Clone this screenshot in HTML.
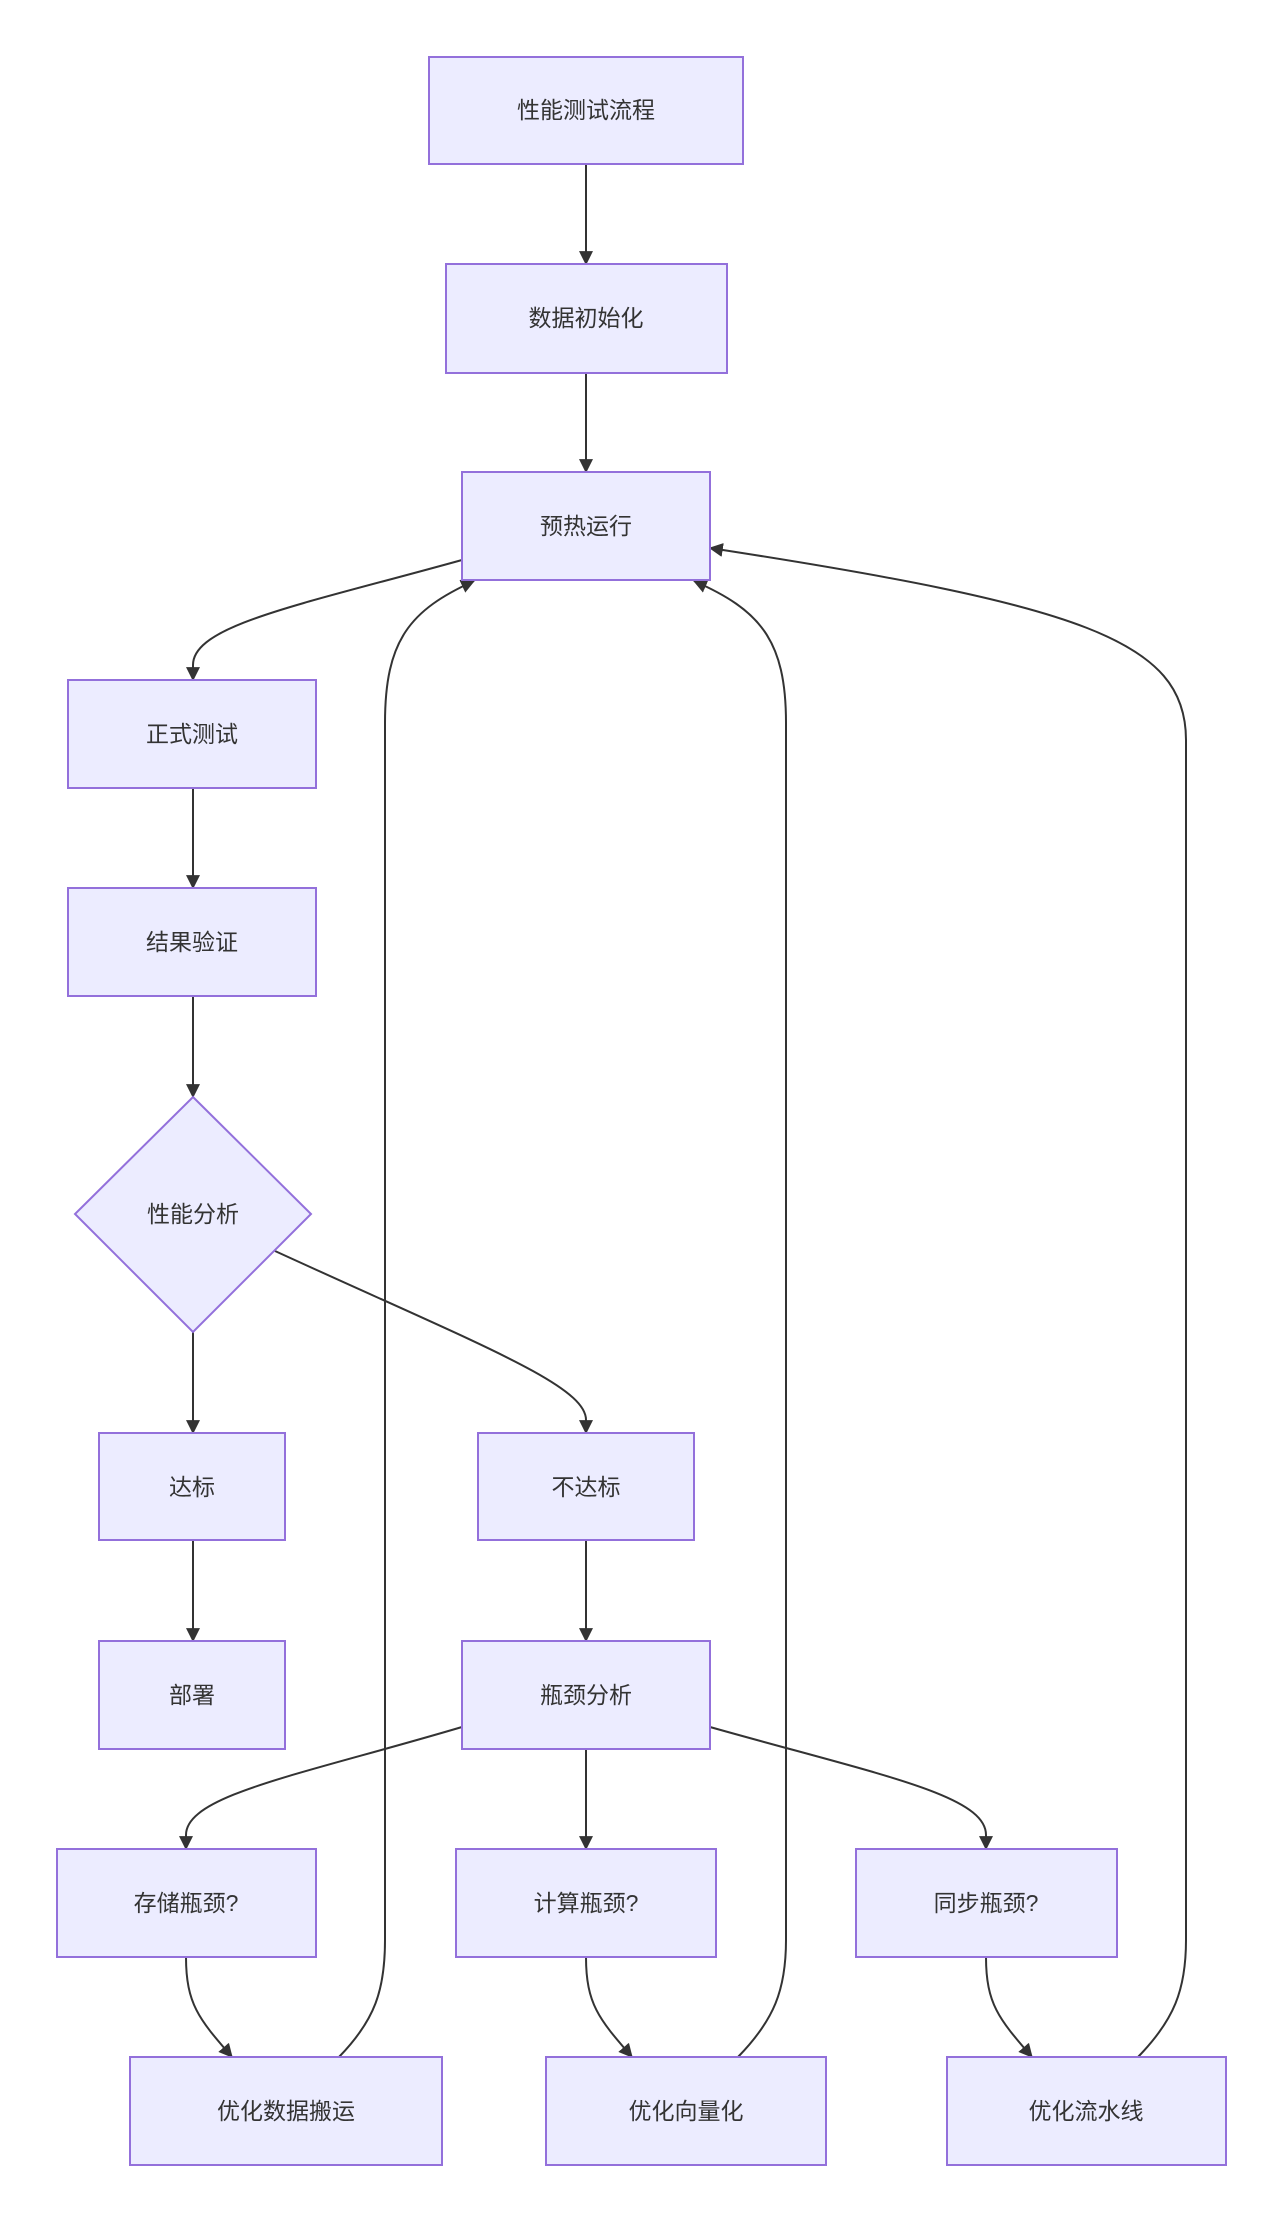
<!DOCTYPE html>
<html><head><meta charset="utf-8"><style>
html,body{margin:0;padding:0;background:#fff;}
svg{display:block;}
text{font-family:"Liberation Sans","Noto Sans CJK SC",sans-serif;font-size:23px;fill:#333;text-anchor:middle;dominant-baseline:central;}
.n{fill:#ECECFF;stroke:#9370DB;stroke-width:2;}
.e{fill:none;stroke:#333;stroke-width:2;}
</style></head><body>
<svg width="1281" height="2220" viewBox="0 0 1281 2220" xmlns="http://www.w3.org/2000/svg">
<defs><marker id="a" viewBox="0 0 10 10" refX="9" refY="5" markerWidth="8" markerHeight="8" orient="auto-start-reverse" markerUnits="userSpaceOnUse" style="overflow:visible"><path d="M-6,-2 L10,5 L-6,12 z" fill="#333" transform="scale(1)"/></marker>
<marker id="b" viewBox="0 0 12 12" refX="11" refY="6" markerWidth="14" markerHeight="14" orient="auto" markerUnits="userSpaceOnUse"><path d="M0,0 L12,6 L0,12 z" fill="#333"/></marker></defs>
<!-- edges -->
<path class="e" marker-end="url(#b)" d="M586,164 L586,264"/>
<path class="e" marker-end="url(#b)" d="M586,373 L586,472"/>
<path class="e" marker-end="url(#b)" d="M462,560 C300,605 193,625 193,665 L193,680"/>
<path class="e" marker-end="url(#b)" d="M193,788 L193,888"/>
<path class="e" marker-end="url(#b)" d="M193,996 L193,1097"/>
<path class="e" marker-end="url(#b)" d="M193,1332 L193,1433"/>
<path class="e" marker-end="url(#b)" d="M275,1251 C480,1345 586,1385 586,1420 L586,1433"/>
<path class="e" marker-end="url(#b)" d="M193,1540 L193,1641"/>
<path class="e" marker-end="url(#b)" d="M586,1540 L586,1641"/>
<path class="e" marker-end="url(#b)" d="M462,1727 C300,1775 186,1795 186,1835 L186,1849"/>
<path class="e" marker-end="url(#b)" d="M586,1749 L586,1849"/>
<path class="e" marker-end="url(#b)" d="M710,1727 C880,1775 986,1795 986,1835 L986,1849"/>
<path class="e" marker-end="url(#b)" d="M186,1957 C186,2005 200,2020 232,2057"/>
<path class="e" marker-end="url(#b)" d="M586,1957 C586,2005 600,2020 632,2057"/>
<path class="e" marker-end="url(#b)" d="M986,1957 C986,2005 1000,2020 1032,2057"/>
<path class="e" marker-end="url(#b)" d="M339,2057 C375,2020 385,1990 385,1940 L385,723 C385,640 410,610 474,581"/>
<path class="e" marker-end="url(#b)" d="M738,2057 C774,2020 786,1990 786,1940 L786,723 C786,640 760,610 694,581"/>
<path class="e" marker-end="url(#b)" d="M1138,2057 C1174,2020 1186,1990 1186,1940 L1186,740 C1186,640 1080,605 710,548"/>
<!-- nodes -->
<rect class="n" x="429" y="57" width="314" height="107"/><text x="586" y="110">性能测试流程</text>
<rect class="n" x="446" y="264" width="281" height="109"/><text x="586" y="318">数据初始化</text>
<rect class="n" x="462" y="472" width="248" height="108"/><text x="586" y="526">预热运行</text>
<rect class="n" x="68" y="680" width="248" height="108"/><text x="192" y="734">正式测试</text>
<rect class="n" x="68" y="888" width="248" height="108"/><text x="192" y="942">结果验证</text>
<polygon class="n" points="193,1097 311,1214 193,1332 75,1214"/><text x="193" y="1214">性能分析</text>
<rect class="n" x="99" y="1433" width="186" height="107"/><text x="192" y="1487">达标</text>
<rect class="n" x="478" y="1433" width="216" height="107"/><text x="586" y="1487">不达标</text>
<rect class="n" x="99" y="1641" width="186" height="108"/><text x="192" y="1695">部署</text>
<rect class="n" x="462" y="1641" width="248" height="108"/><text x="586" y="1695">瓶颈分析</text>
<rect class="n" x="57" y="1849" width="259" height="108"/><text x="186" y="1903">存储瓶颈?</text>
<rect class="n" x="456" y="1849" width="260" height="108"/><text x="586" y="1903">计算瓶颈?</text>
<rect class="n" x="856" y="1849" width="261" height="108"/><text x="986" y="1903">同步瓶颈?</text>
<rect class="n" x="130" y="2057" width="312" height="108"/><text x="286" y="2111">优化数据搬运</text>
<rect class="n" x="546" y="2057" width="280" height="108"/><text x="686" y="2111">优化向量化</text>
<rect class="n" x="947" y="2057" width="279" height="108"/><text x="1086" y="2111">优化流水线</text>
</svg>
</body></html>
